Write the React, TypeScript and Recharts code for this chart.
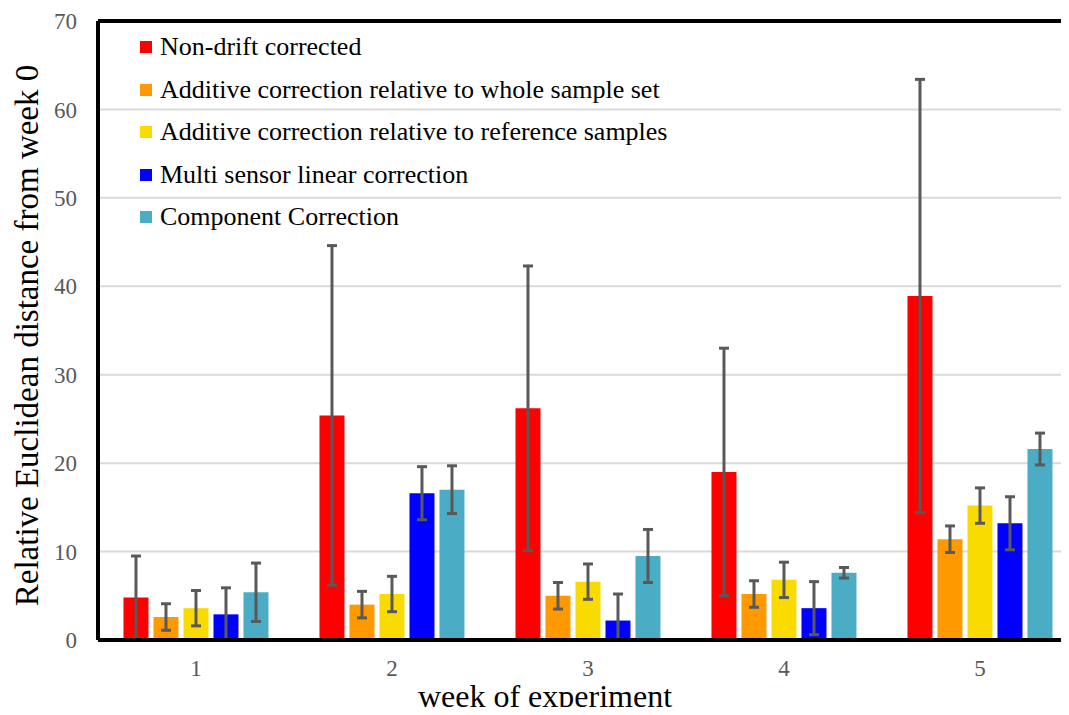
import React from 'react';
import { BarChart, Bar, XAxis, YAxis, CartesianGrid, ErrorBar, Legend, ReferenceLine } from 'recharts';

const weeks = ['1', '2', '3', '4', '5'];

const seriesNames = [
  'Non-drift corrected',
  'Additive correction relative to whole sample set',
  'Additive correction relative to reference samples',
  'Multi sensor linear correction',
  'Component Correction',
];
const seriesColors = ['#FF0000', '#FF9900', '#FADB00', '#0000FF', '#4BACC6'];

// mean distance per week, and the +/- spread drawn as error bars
const nonDrift = [4.8, 25.4, 26.2, 19.0, 38.9];
const nonDriftErr = [4.7, 19.2, 16.1, 14.0, 24.5];
const additiveWhole = [2.6, 4.0, 5.0, 5.2, 11.4];
const additiveWholeErr = [1.5, 1.5, 1.5, 1.5, 1.5];
const additiveRef = [3.6, 5.2, 6.6, 6.8, 15.2];
const additiveRefErr = [2.0, 2.0, 2.0, 2.0, 2.0];
const multiSensor = [2.9, 16.6, 2.2, 3.6, 13.2];
const multiSensorErr = [3.0, 3.0, 3.0, 3.0, 3.0];
const component = [5.4, 17.0, 9.5, 7.6, 21.6];
const componentErr = [3.3, 2.7, 3.0, 0.6, 1.8];

const yTicks = [0, 10, 20, 30, 40, 50, 60, 70];

const seriesValues = [nonDrift, additiveWhole, additiveRef, multiSensor, component];
const seriesErrors = [nonDriftErr, additiveWholeErr, additiveRefErr, multiSensorErr, componentErr];

const data = weeks.map((week, i) => {
  const row: any = { week };
  seriesValues.forEach((vals, s) => {
    const v = vals[i];
    const e = seriesErrors[s][i];
    row[`s${s}`] = v;
    // error bars stop at the axis, never below zero
    row[`s${s}Err`] = [Math.min(e, v), e];
  });
  return row;
});

const FONT = "'Liberation Serif', 'Times New Roman', serif";

const LegendBox = () => (
  <div style={{ fontFamily: FONT, fontSize: 26, color: '#000', textAlign: 'left' }}>
    {seriesNames.map((name, i) => (
      <div key={name} style={{ display: 'flex', alignItems: 'center', height: 42.5, whiteSpace: 'nowrap' }}>
        <span style={{ display: 'inline-block', width: 12, height: 12, background: seriesColors[i], marginRight: 8 }} />
        <span>{name}</span>
      </div>
    ))}
  </div>
);

const YTitle = (props: any) => {
  const { viewBox } = props;
  const cx = 38;
  const cy = viewBox.y + viewBox.height / 2 + 5;
  return (
    <text x={cx} y={cy} transform={`rotate(-90, ${cx}, ${cy})`} textAnchor="middle"
      fontFamily={FONT} fontSize={33} fill="#000">
      Relative  Euclidean distance from week 0
    </text>
  );
};

const XTitle = () => (
  <text x={545} y={707} textAnchor="middle" fontFamily={FONT} fontSize={32} fill="#000">
    week of experiment
  </text>
);

const App: React.FC = () => {
  return (
    <div style={{ margin: -8, width: 1069, height: 715, overflow: 'hidden', background: '#fff' }}>
      <BarChart
        width={1090}
        height={715}
        data={data}
        margin={{ top: 21, right: 12, left: 0, bottom: 5 }}
        barCategoryGap="13%"
        barGap={5}
      >
        <CartesianGrid vertical={false} stroke="#D9D9D9" strokeWidth={2} />
        <XAxis
          dataKey="week"
          height={70}
          axisLine={{ stroke: '#000', strokeWidth: 4 }}
          tickLine={false}
          tickSize={0}
          tickMargin={20}
          tick={{ fill: '#595959', fontSize: 23, fontFamily: FONT }}
          label={{ content: <XTitle /> }}
        />
        <YAxis
          width={98}
          domain={[0, 70]}
          ticks={yTicks}
          axisLine={{ stroke: '#000', strokeWidth: 4 }}
          tickLine={false}
          tickSize={0}
          tickMargin={21}
          tick={{ fill: '#595959', fontSize: 23, fontFamily: FONT }}
          label={{ content: <YTitle /> }}
        />
        <ReferenceLine y={70} stroke="#000" strokeWidth={4} />
        <Legend
          content={<LegendBox />}
          layout="horizontal"
          verticalAlign="middle"
          align="center"
          wrapperStyle={{ top: 26, left: 140, width: 'auto', height: 'auto' }}
        />
        {seriesNames.map((name, s) => (
          <Bar key={name} dataKey={`s${s}`} name={name} fill={seriesColors[s]} isAnimationActive={false}>
            <ErrorBar dataKey={`s${s}Err`} stroke="#595959" strokeWidth={3} width={5} />
          </Bar>
        ))}
      </BarChart>
    </div>
  );
};

export default App;
